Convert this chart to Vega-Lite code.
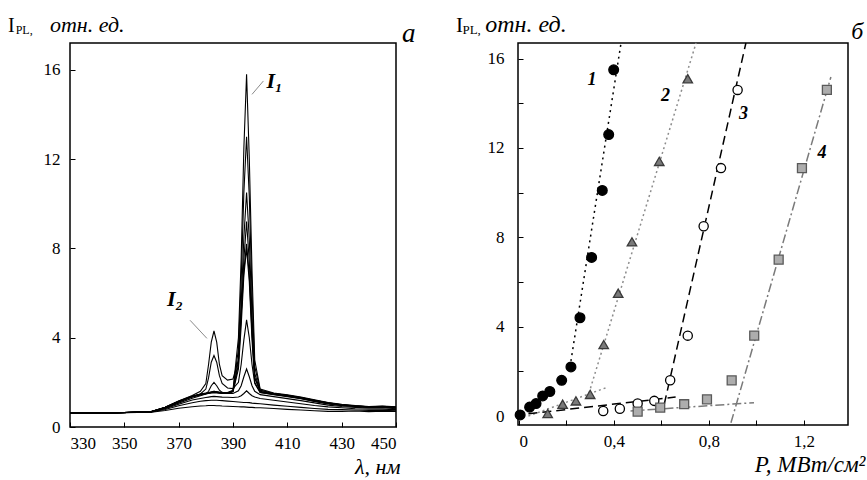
{
  "$schema": "https://vega.github.io/schema/vega-lite/v6.json",
  "background": "white",
  "padding": {"left": 7, "top": 12, "right": 0, "bottom": 0},
  "spacing": 122,
  "bounds": "flush",
  "config": {
    "view": {"stroke": "black", "strokeWidth": 1.5},
    "font": "Liberation Serif",
    "axis": {
      "domain": false, "grid": false, "ticks": true, "tickColor": "black", "tickSize": -5, "tickWidth": 1,
      "labelFont": "Liberation Serif", "labelFontSize": 17, "labelColor": "black", "labelPadding": 15,
      "titleFont": "Liberation Serif", "titleFontStyle": "italic", "titleFontWeight": "normal", "titleFontSize": 22, "titleColor": "black"
    }
  },
  "hconcat": [
    {
      "width": 326,
      "height": 384,
      "layer": [
        {
          "data": {"values": [
            {"w":330,"c1":0.62,"c2":0.62,"c3":0.62,"c4":0.62,"c5":0.62,"c6":0.62,"c7":0.62,"c8":0.62,"c9":0.62,"c10":0.62,"c11":0.62},
            {"w":345,"c1":0.63,"c2":0.63,"c3":0.63,"c4":0.63,"c5":0.63,"c6":0.63,"c7":0.63,"c8":0.63,"c9":0.63,"c10":0.63,"c11":0.63},
            {"w":360,"c1":0.66,"c2":0.67,"c3":0.68,"c4":0.68,"c5":0.69,"c6":0.69,"c7":0.69,"c8":0.69,"c9":0.69,"c10":0.69,"c11":0.69},
            {"w":365,"c1":0.74,"c2":0.78,"c3":0.82,"c4":0.84,"c5":0.86,"c6":0.88,"c7":0.87,"c8":0.86,"c9":0.87,"c10":0.88,"c11":0.87},
            {"w":370,"c1":0.84,"c2":0.95,"c3":1.02,"c4":1.07,"c5":1.12,"c6":1.16,"c7":1.14,"c8":1.12,"c9":1.14,"c10":1.16,"c11":1.13},
            {"w":375,"c1":0.91,"c2":1.09,"c3":1.21,"c4":1.29,"c5":1.35,"c6":1.41,"c7":1.37,"c8":1.35,"c9":1.37,"c10":1.39,"c11":1.36},
            {"w":378,"c1":0.94,"c2":1.15,"c3":1.28,"c4":1.4,"c5":1.48,"c6":1.6,"c7":1.46,"c8":1.44,"c9":1.46,"c10":1.48,"c11":1.45},
            {"w":380,"c1":0.95,"c2":1.18,"c3":1.32,"c4":1.48,"c5":1.7,"c6":1.95,"c7":1.5,"c8":1.48,"c9":1.5,"c10":1.52,"c11":1.49},
            {"w":381,"c1":0.96,"c2":1.19,"c3":1.34,"c4":1.6,"c5":2.2,"c6":2.8,"c7":1.53,"c8":1.5,"c9":1.52,"c10":1.54,"c11":1.51},
            {"w":382,"c1":0.96,"c2":1.2,"c3":1.36,"c4":1.85,"c5":2.9,"c6":3.8,"c7":1.57,"c8":1.52,"c9":1.55,"c10":1.57,"c11":1.54},
            {"w":383,"c1":0.96,"c2":1.2,"c3":1.37,"c4":2.0,"c5":3.2,"c6":4.3,"c7":1.6,"c8":1.54,"c9":1.57,"c10":1.6,"c11":1.56},
            {"w":384,"c1":0.95,"c2":1.2,"c3":1.36,"c4":1.85,"c5":2.9,"c6":3.8,"c7":1.58,"c8":1.53,"c9":1.56,"c10":1.58,"c11":1.55},
            {"w":385,"c1":0.95,"c2":1.19,"c3":1.35,"c4":1.65,"c5":2.3,"c6":2.8,"c7":1.55,"c8":1.51,"c9":1.54,"c10":1.56,"c11":1.53},
            {"w":386,"c1":0.94,"c2":1.18,"c3":1.34,"c4":1.55,"c5":1.95,"c6":2.3,"c7":1.52,"c8":1.5,"c9":1.52,"c10":1.54,"c11":1.51},
            {"w":388,"c1":0.93,"c2":1.16,"c3":1.33,"c4":1.5,"c5":1.75,"c6":2.1,"c7":1.5,"c8":1.5,"c9":1.52,"c10":1.54,"c11":1.5},
            {"w":390,"c1":0.92,"c2":1.14,"c3":1.32,"c4":1.5,"c5":1.72,"c6":2.15,"c7":1.58,"c8":1.6,"c9":1.62,"c10":1.65,"c11":1.6},
            {"w":392,"c1":0.91,"c2":1.12,"c3":1.34,"c4":1.62,"c5":2.0,"c6":3.0,"c7":2.6,"c8":3.0,"c9":3.5,"c10":4.0,"c11":2.8},
            {"w":393,"c1":0.9,"c2":1.11,"c3":1.4,"c4":1.85,"c5":2.8,"c6":5.0,"c7":4.5,"c8":5.5,"c9":6.5,"c10":7.5,"c11":5.0},
            {"w":394,"c1":0.9,"c2":1.1,"c3":1.5,"c4":2.25,"c5":3.9,"c6":7.0,"c7":6.8,"c8":8.5,"c9":10.5,"c10":12.5,"c11":7.5},
            {"w":395,"c1":0.89,"c2":1.1,"c3":1.62,"c4":2.6,"c5":4.8,"c6":8.2,"c7":8.0,"c8":10.5,"c9":13.0,"c10":15.8,"c11":9.2},
            {"w":396,"c1":0.88,"c2":1.09,"c3":1.5,"c4":2.25,"c5":4.0,"c6":6.8,"c7":6.5,"c8":8.4,"c9":10.3,"c10":12.0,"c11":7.4},
            {"w":397,"c1":0.88,"c2":1.07,"c3":1.4,"c4":1.85,"c5":2.8,"c6":4.2,"c7":3.9,"c8":5.0,"c9":6.0,"c10":7.0,"c11":4.4},
            {"w":398,"c1":0.87,"c2":1.06,"c3":1.34,"c4":1.6,"c5":1.95,"c6":2.2,"c7":2.0,"c8":2.4,"c9":2.7,"c10":3.0,"c11":2.2},
            {"w":400,"c1":0.86,"c2":1.04,"c3":1.28,"c4":1.45,"c5":1.55,"c6":1.65,"c7":1.55,"c8":1.6,"c9":1.65,"c10":1.7,"c11":1.58},
            {"w":405,"c1":0.83,"c2":0.98,"c3":1.2,"c4":1.36,"c5":1.45,"c6":1.5,"c7":1.46,"c8":1.48,"c9":1.5,"c10":1.52,"c11":1.47},
            {"w":410,"c1":0.79,"c2":0.93,"c3":1.12,"c4":1.27,"c5":1.36,"c6":1.42,"c7":1.38,"c8":1.4,"c9":1.42,"c10":1.44,"c11":1.39},
            {"w":415,"c1":0.76,"c2":0.88,"c3":1.04,"c4":1.18,"c5":1.27,"c6":1.32,"c7":1.28,"c8":1.3,"c9":1.32,"c10":1.34,"c11":1.29},
            {"w":420,"c1":0.73,"c2":0.83,"c3":0.96,"c4":1.08,"c5":1.14,"c6":1.2,"c7":1.16,"c8":1.18,"c9":1.2,"c10":1.22,"c11":1.17},
            {"w":425,"c1":0.7,"c2":0.79,"c3":0.9,"c4":0.98,"c5":1.03,"c6":1.08,"c7":1.05,"c8":1.06,"c9":1.08,"c10":1.1,"c11":1.06},
            {"w":430,"c1":0.7,"c2":0.78,"c3":0.86,"c4":0.92,"c5":0.96,"c6":1.0,"c7":0.97,"c8":0.98,"c9":1.0,"c10":1.02,"c11":0.98},
            {"w":435,"c1":0.72,"c2":0.76,"c3":0.82,"c4":0.88,"c5":0.92,"c6":0.94,"c7":0.93,"c8":0.94,"c9":0.95,"c10":0.96,"c11":0.93},
            {"w":440,"c1":0.69,"c2":0.74,"c3":0.8,"c4":0.85,"c5":0.88,"c6":0.9,"c7":0.89,"c8":0.9,"c9":0.91,"c10":0.92,"c11":0.9},
            {"w":445,"c1":0.71,"c2":0.75,"c3":0.8,"c4":0.86,"c5":0.9,"c6":0.92,"c7":0.91,"c8":0.92,"c9":0.93,"c10":0.94,"c11":0.91},
            {"w":450,"c1":0.7,"c2":0.73,"c3":0.78,"c4":0.82,"c5":0.85,"c6":0.87,"c7":0.86,"c8":0.88,"c9":0.89,"c10":0.9,"c11":0.87}
          ]},
          "transform": [{"fold": ["c1","c2","c3","c4","c5","c6","c7","c8","c9","c10","c11"], "as": ["curve", "I"]}],
          "mark": {"type": "line", "color": "black", "strokeWidth": 1.1},
          "encoding": {
            "x": {"field": "w", "type": "quantitative", "scale": {"domain": [330, 450], "nice": false},
                  "axis": {"values": [330,340,350,360,370,380,390,400,410,420,430,440,450],
                           "labelExpr": "(datum.value - 330) % 20 == 0 ? datum.label : ''", "labelPadding": 13,
                           "title": "λ, нм", "titleAnchor": "end", "titleAlign": "right", "titleBaseline": "alphabetic", "titleX": 330, "titleY": 46}},
            "y": {"field": "I", "type": "quantitative", "scale": {"domain": [0, 17.2], "nice": false},
                  "axis": {"values": [0,4,8,12,16], "title": null}},
            "detail": {"field": "curve"}
          }
        },
        {
          "data": {"values": [
            {"g":"a","w":397,"I":14.9},{"g":"a","w":401.2,"I":15.5},
            {"g":"b","w":374.2,"I":4.78},{"g":"b","w":380.4,"I":3.97}
          ]},
          "mark": {"type": "line", "color": "#8a8a8a", "strokeWidth": 1},
          "encoding": {"x": {"field": "w", "type": "quantitative"}, "y": {"field": "I", "type": "quantitative"}, "detail": {"field": "g"}}
        },
        {
          "data": {"values": [{"w":402.3,"I":15.2,"t":"I₁"},{"w":365.7,"I":5.4,"t":"I₂"}]},
          "mark": {"type": "text", "font": "Liberation Serif", "fontSize": 22, "fontStyle": "italic", "fontWeight": "bold", "align": "left", "baseline": "alphabetic"},
          "encoding": {"x": {"field": "w", "type": "quantitative"}, "y": {"field": "I", "type": "quantitative"}, "text": {"field": "t"}}
        },
        {
          "data": {"values": [{"w":307.2,"I":17.69,"t":"I"}]},
          "mark": {"type": "text", "font": "Liberation Serif", "fontSize": 20, "align": "left", "baseline": "alphabetic"},
          "encoding": {"x": {"field": "w", "type": "quantitative"}, "y": {"field": "I", "type": "quantitative"}, "text": {"field": "t"}}
        },
        {
          "data": {"values": [{"w":310.0,"I":17.6,"t":"PL,"}]},
          "mark": {"type": "text", "font": "Liberation Serif", "fontSize": 12, "align": "left", "baseline": "alphabetic"},
          "encoding": {"x": {"field": "w", "type": "quantitative"}, "y": {"field": "I", "type": "quantitative"}, "text": {"field": "t"}}
        },
        {
          "data": {"values": [{"w":322.6,"I":17.69,"t":"отн. ед."}]},
          "mark": {"type": "text", "font": "Liberation Serif", "fontSize": 22, "fontStyle": "italic", "align": "left", "baseline": "alphabetic"},
          "encoding": {"x": {"field": "w", "type": "quantitative"}, "y": {"field": "I", "type": "quantitative"}, "text": {"field": "t"}}
        },
        {
          "data": {"values": [{"w":452.2,"I":17.24,"t":"a"}]},
          "mark": {"type": "text", "font": "Liberation Serif", "fontSize": 27, "fontStyle": "italic", "align": "left", "baseline": "alphabetic"},
          "encoding": {"x": {"field": "w", "type": "quantitative"}, "y": {"field": "I", "type": "quantitative"}, "text": {"field": "t"}}
        }
      ]
    },
    {
      "width": 330,
      "height": 382,
      "layer": [
        {
          "data": {"values": [
            {"id":"1s","s":"1","P":0.215,"I":2.2},{"id":"1s","s":"1","P":0.43,"I":16.7},
            {"id":"2s","s":"2","P":0.289,"I":0.82},{"id":"2s","s":"2","P":0.746,"I":16.7},
            {"id":"2l","s":"2","P":0.04,"I":0.0},{"id":"2l","s":"2","P":0.375,"I":1.3},
            {"id":"3s","s":"3","P":0.612,"I":0.53},{"id":"3s","s":"3","P":0.956,"I":16.7},
            {"id":"3l","s":"3","P":0.04,"I":0.1},{"id":"3l","s":"3","P":0.66,"I":0.85},
            {"id":"4s","s":"4","P":0.893,"I":-0.3},{"id":"4s","s":"4","P":1.314,"I":15.18},
            {"id":"4l","s":"4","P":0.47,"I":0.23},{"id":"4l","s":"4","P":0.99,"I":0.6}
          ]},
          "mark": {"type": "line", "strokeWidth": 1.5},
          "encoding": {
            "x": {"field": "P", "type": "quantitative", "scale": {"domain": [-0.004, 1.386], "nice": false},
                  "axis": {"values": [0,0.1,0.2,0.3,0.4,0.5,0.6,0.7,0.8,0.9,1.0,1.1,1.2,1.3],
                           "labelExpr": "round(datum.value*10) % 4 == 0 ? replace(format(datum.value, '~g'), '.', ',') : ''", "labelPadding": 13,
                           "title": "P, МВт/см²", "titleFontSize": 23, "titleAnchor": "end", "titleAlign": "right", "titleBaseline": "alphabetic", "titleX": 347, "titleY": 46}},
            "y": {"field": "I", "type": "quantitative", "scale": {"domain": [-0.4, 16.7], "nice": false},
                  "axis": {"values": [0,2,4,6,8,10,12,14,16], "labelExpr": "datum.value % 4 == 0 ? datum.label : ''", "title": null, "labelPadding": 19}},
            "detail": {"field": "id"},
            "color": {"field": "s", "type": "nominal", "scale": {"domain": ["1","2","3","4"], "range": ["black","#8c8c8c","black","#7a7a7a"]}, "legend": null},
            "strokeDash": {"field": "s", "type": "nominal", "scale": {"domain": ["1","2","3","4"], "range": [[2,4],[2,3],[9,5],[9,3,2,3]]}, "legend": null}
          }
        },
        {
          "data": {"values": [
            {"s":"1","P":0.005,"I":0.05},{"s":"1","P":0.045,"I":0.4},{"s":"1","P":0.072,"I":0.56},{"s":"1","P":0.1,"I":0.9},{"s":"1","P":0.13,"I":1.1},{"s":"1","P":0.18,"I":1.6},{"s":"1","P":0.219,"I":2.2},{"s":"1","P":0.257,"I":4.4},{"s":"1","P":0.306,"I":7.1},{"s":"1","P":0.351,"I":10.1},{"s":"1","P":0.378,"I":12.6},{"s":"1","P":0.399,"I":15.5},
            {"s":"2","P":0.121,"I":0.11},{"s":"2","P":0.184,"I":0.53},{"s":"2","P":0.24,"I":0.68},{"s":"2","P":0.3,"I":0.97},{"s":"2","P":0.357,"I":3.2},{"s":"2","P":0.418,"I":5.5},{"s":"2","P":0.476,"I":7.8},{"s":"2","P":0.591,"I":11.4},{"s":"2","P":0.711,"I":15.1},
            {"s":"3","P":0.355,"I":0.23},{"s":"3","P":0.425,"I":0.33},{"s":"3","P":0.5,"I":0.56},{"s":"3","P":0.57,"I":0.68},{"s":"3","P":0.637,"I":1.6},{"s":"3","P":0.711,"I":3.6},{"s":"3","P":0.778,"I":8.5},{"s":"3","P":0.851,"I":11.1},{"s":"3","P":0.921,"I":14.6},
            {"s":"4","P":0.5,"I":0.2},{"s":"4","P":0.595,"I":0.38},{"s":"4","P":0.696,"I":0.53},{"s":"4","P":0.792,"I":0.75},{"s":"4","P":0.896,"I":1.6},{"s":"4","P":0.991,"I":3.6},{"s":"4","P":1.094,"I":7.0},{"s":"4","P":1.192,"I":11.1},{"s":"4","P":1.297,"I":14.6}
          ]},
          "mark": {"type": "point", "filled": true, "strokeWidth": 1.3, "opacity": 1},
          "encoding": {
            "x": {"field": "P", "type": "quantitative"},
            "y": {"field": "I", "type": "quantitative"},
            "shape": {"field": "s", "type": "nominal", "scale": {"domain": ["1","2","3","4"], "range": ["circle","triangle-up","circle","square"]}, "legend": null},
            "fill": {"field": "s", "type": "nominal", "scale": {"domain": ["1","2","3","4"], "range": ["black","#7a7a7a","white","#adadad"]}, "legend": null},
            "stroke": {"field": "s", "type": "nominal", "scale": {"domain": ["1","2","3","4"], "range": ["black","#3a3a3a","black","#5a5a5a"]}, "legend": null},
            "size": {"field": "s", "type": "nominal", "scale": {"domain": ["1","2","3","4"], "range": [95, 80, 85, 65]}, "legend": null}
          }
        },
        {
          "data": {"values": [{"P":0.289,"I":14.8,"t":"1"},{"P":0.598,"I":14.1,"t":"2"},{"P":0.927,"I":13.3,"t":"3"},{"P":1.258,"I":11.55,"t":"4"}]},
          "mark": {"type": "text", "font": "Liberation Serif", "fontSize": 18, "fontStyle": "italic", "fontWeight": "bold", "align": "left", "baseline": "alphabetic"},
          "encoding": {"x": {"field": "P", "type": "quantitative"}, "y": {"field": "I", "type": "quantitative"}, "text": {"field": "t"}}
        },
        {
          "data": {"values": [{"P":-0.265,"I":17.19,"t":"I"}]},
          "mark": {"type": "text", "font": "Liberation Serif", "fontSize": 21, "align": "left", "baseline": "alphabetic"},
          "encoding": {"x": {"field": "P", "type": "quantitative"}, "y": {"field": "I", "type": "quantitative"}, "text": {"field": "t"}}
        },
        {
          "data": {"values": [{"P":-0.238,"I":17.1,"t":"PL,"}]},
          "mark": {"type": "text", "font": "Liberation Serif", "fontSize": 13, "align": "left", "baseline": "alphabetic"},
          "encoding": {"x": {"field": "P", "type": "quantitative"}, "y": {"field": "I", "type": "quantitative"}, "text": {"field": "t"}}
        },
        {
          "data": {"values": [{"P":-0.142,"I":17.19,"t":"отн. ед."}]},
          "mark": {"type": "text", "font": "Liberation Serif", "fontSize": 24, "fontStyle": "italic", "align": "left", "baseline": "alphabetic"},
          "encoding": {"x": {"field": "P", "type": "quantitative"}, "y": {"field": "I", "type": "quantitative"}, "text": {"field": "t"}}
        },
        {
          "data": {"values": [{"P":1.4,"I":16.9,"t":"б"}]},
          "mark": {"type": "text", "font": "Liberation Serif", "fontSize": 24, "fontStyle": "italic", "align": "left", "baseline": "alphabetic"},
          "encoding": {"x": {"field": "P", "type": "quantitative"}, "y": {"field": "I", "type": "quantitative"}, "text": {"field": "t"}}
        }
      ]
    }
  ]
}
